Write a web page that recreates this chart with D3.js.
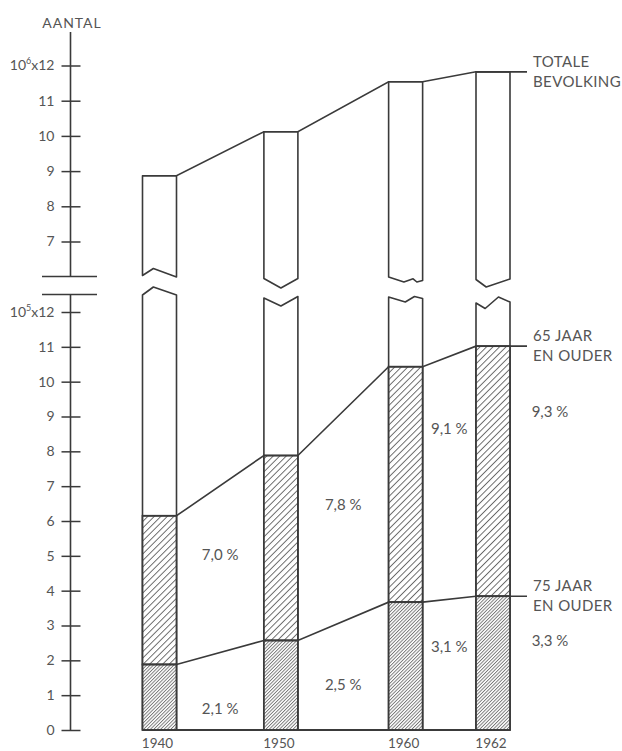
<!DOCTYPE html>
<html><head><meta charset="utf-8">
<script src="https://cdn.jsdelivr.net/npm/d3@7"></script>
<style>
body{margin:0;background:#fff}
text{font-family:Lato,"Open Sans",sans-serif;fill:#555}
</style>
</head><body>
<svg id="c" width="622" height="751"></svg>
<script>
// ---- data ----
const years = [1940, 1950, 1960, 1962];
const totalPopulation = [8.87, 10.12, 11.54, 11.82];   // x 10^6
const aged65Plus = [6.15, 7.88, 10.43, 11.02];          // x 10^5
const aged75Plus = [1.88, 2.57, 3.67, 3.84];            // x 10^5
const share65Labels = ["7,0 %", "7,8 %", "9,1 %", "9,3 %"];
const share75Labels = ["2,1 %", "2,5 %", "3,1 %", "3,3 %"];
const upperTicks = [7, 8, 9, 10, 11, 12];
const lowerTicks = [0, 1, 2, 3, 4, 5, 6, 7, 8, 9, 10, 11, 12];
const totalLabel = ["TOTALE", "BEVOLKING"];
const label65 = ["65 JAAR", "EN OUDER"];
const label75 = ["75 JAAR", "EN OUDER"];
const axisTitle = "AANTAL";

// ---- layout ----
const ink = "#3a3a3a";
const svg = d3.select("#c");
const axisX = 70.5;
const upperBreakY = 276.5, lowerBreakY = 294.5, baseY = 730;
const yUpper = d3.scaleLinear().domain([7, 12]).range([241.5, 65.5]);
const yLower = d3.scaleLinear().domain([0, 12]).range([baseY, 312]);
const xStops = [0, 0.364, 0.738, 1];
const x = d3.scaleLinear().domain(years).range(xStops.map(s => 159.5 + s * 333.5));
const barW = 34;
const lineEndX = 527;
// decorative break cut shapes: [fraction of width, offset px]
const upperCuts = [
  [[0,-1],[0.32,-8],[1,0.5]],
  [[0,2],[0.5,11.5],[1,2]],
  [[0,0.5],[0.45,5.5],[0.72,2.3],[0.83,5.5],[1,4]],
  [[0,3],[0.3,10.5],[1,2.5]]
];
const lowerCuts = [
  [[0,0.5],[0.32,-7.5],[1,0.5]],
  [[0,3.5],[0.5,11.5],[1,2]],
  [[0,2.5],[0.49,7.5],[0.76,2],[1,4]],
  [[0,8.5],[0.27,14],[0.66,2.5],[1,7.5]]
];

// ---- patterns ----
const defs = svg.append("defs");
function hatch(id, size, w, col) {
  const p = defs.append("pattern").attr("id", id).attr("patternUnits", "userSpaceOnUse")
    .attr("width", size).attr("height", size).attr("patternTransform", "rotate(45)");
  p.append("rect").attr("width", size).attr("height", size).attr("fill", "#fff");
  p.append("line").attr("x1", 0.5).attr("y1", 0).attr("x2", 0.5).attr("y2", size)
    .attr("stroke", col).attr("stroke-width", w);
}
hatch("sparse", 4.6, 0.85, "#555");
hatch("dense", 2.4, 0.75, "#555");

// ---- axes ----
function styleAxis(g) {
  g.select(".domain").remove();
  g.selectAll(".tick line").attr("x1", 10).attr("stroke", ink).attr("stroke-width", 1.5);
  g.selectAll(".tick text").attr("font-size", 14).attr("fill", "#555")
    .attr("font-family", "Lato, 'Open Sans', sans-serif");
}
const gUp = svg.append("g").attr("transform", `translate(${axisX},0)`)
  .call(d3.axisLeft(yUpper).tickValues(upperTicks).tickSize(9).tickPadding(7).tickFormat(d => d === 12 ? "" : d));
styleAxis(gUp);
const gLo = svg.append("g").attr("transform", `translate(${axisX},0)`)
  .call(d3.axisLeft(yLower).tickValues(lowerTicks).tickSize(9).tickPadding(7).tickFormat(d => d === 12 ? "" : d));
styleAxis(gLo);
function powLabel(g, exp) {
  const t = g.selectAll(".tick").filter(d => d === 12).select("text");
  t.append("tspan").text("10");
  t.append("tspan").attr("font-size", 9).attr("dy", -6).text(exp);
  t.append("tspan").attr("dy", 6).text("x12");
}
powLabel(gUp, "6");
powLabel(gLo, "5");

svg.append("line").attr("x1", axisX).attr("x2", axisX).attr("y1", 32).attr("y2", upperBreakY)
  .attr("stroke", ink).attr("stroke-width", 1.6);
svg.append("line").attr("x1", axisX).attr("x2", axisX).attr("y1", lowerBreakY).attr("y2", baseY + 1)
  .attr("stroke", ink).attr("stroke-width", 1.6);
[upperBreakY, lowerBreakY].forEach(yb => svg.append("line").attr("x1", 42).attr("x2", 97)
  .attr("y1", yb).attr("y2", yb).attr("stroke", ink).attr("stroke-width", 1.6));
svg.append("text").attr("x", 72).attr("y", 22).attr("text-anchor", "middle")
  .attr("dominant-baseline", "central").attr("font-size", 14).attr("letter-spacing", 1)
  .text(axisTitle);

// ---- bars ----
years.forEach((yr, i) => {
  const xl = x(yr) - barW / 2, xr = x(yr) + barW / 2;
  const up = upperCuts[i].map(([f, d]) => [xl + f * barW, upperBreakY + d]);
  const lo = lowerCuts[i].map(([f, d]) => [xl + f * barW, lowerBreakY + d]);
  const yt = yUpper(totalPopulation[i]);
  const upPath = [[xl, yt], [xr, yt], ...up.slice().reverse()];
  svg.append("path").attr("d", "M" + upPath.join("L") + "Z")
    .attr("fill", "#fff").attr("stroke", ink).attr("stroke-width", 1.6).attr("stroke-linejoin", "round");
  const loPath = [...lo, [xr, baseY], [xl, baseY]];
  svg.append("path").attr("d", "M" + loPath.join("L") + "Z")
    .attr("fill", "#fff").attr("stroke", ink).attr("stroke-width", 1.6).attr("stroke-linejoin", "round");
  svg.append("rect").attr("x", xl).attr("width", barW)
    .attr("y", yLower(aged65Plus[i])).attr("height", yLower(aged75Plus[i]) - yLower(aged65Plus[i]))
    .attr("fill", "url(#sparse)").attr("stroke", ink).attr("stroke-width", 1.8);
  svg.append("rect").attr("x", xl).attr("width", barW)
    .attr("y", yLower(aged75Plus[i])).attr("height", baseY - yLower(aged75Plus[i]))
    .attr("fill", "url(#dense)").attr("stroke", ink).attr("stroke-width", 1.8);
  svg.append("text").attr("x", x(yr) - 2).attr("y", 743).attr("text-anchor", "middle")
    .attr("dominant-baseline", "central").attr("font-size", 13.5).text(yr);
});

svg.append("line").attr("x1", x(years[0]) - barW / 2).attr("x2", x(years[3]) + barW / 2)
  .attr("y1", baseY).attr("y2", baseY).attr("stroke", ink).attr("stroke-width", 2);

// ---- connecting lines ----
function connector(vals, scale, labels) {
  const pts = [];
  years.forEach((yr, i) => {
    pts.push([x(yr) - barW / 2, scale(vals[i])]);
    pts.push([x(yr) + barW / 2, scale(vals[i])]);
  });
  const last = pts[pts.length - 1];
  pts.push([lineEndX, last[1]]);
  svg.append("path").attr("d", d3.line()(pts)).attr("fill", "none")
    .attr("stroke", ink).attr("stroke-width", 1.6);
  labels.forEach((t, k) => svg.append("text").attr("x", lineEndX + 6)
    .attr("y", last[1] - 11 + k * 20).attr("dominant-baseline", "central")
    .attr("font-size", 15).attr("letter-spacing", 0.4).text(t));
}
connector(totalPopulation, yUpper, totalLabel);
connector(aged65Plus, yLower, label65);
connector(aged75Plus, yLower, label75);

// ---- share labels ----
years.forEach((yr, i) => {
  const xr = x(yr) + barW / 2;
  const cx = i < years.length - 1 ? (xr + x(years[i + 1]) - barW / 2) / 2 : xr + 40;
  svg.append("text").attr("x", cx).attr("text-anchor", "middle").attr("dominant-baseline", "central")
    .attr("y", yLower(aged75Plus[i] + 0.74 * (aged65Plus[i] - aged75Plus[i])))
    .attr("font-size", 15).text(share65Labels[i]);
  svg.append("text").attr("x", cx).attr("text-anchor", "middle").attr("dominant-baseline", "central")
    .attr("y", yLower(aged75Plus[i] - 1.25))
    .attr("font-size", 15).text(share75Labels[i]);
});
</script>
</body></html>
